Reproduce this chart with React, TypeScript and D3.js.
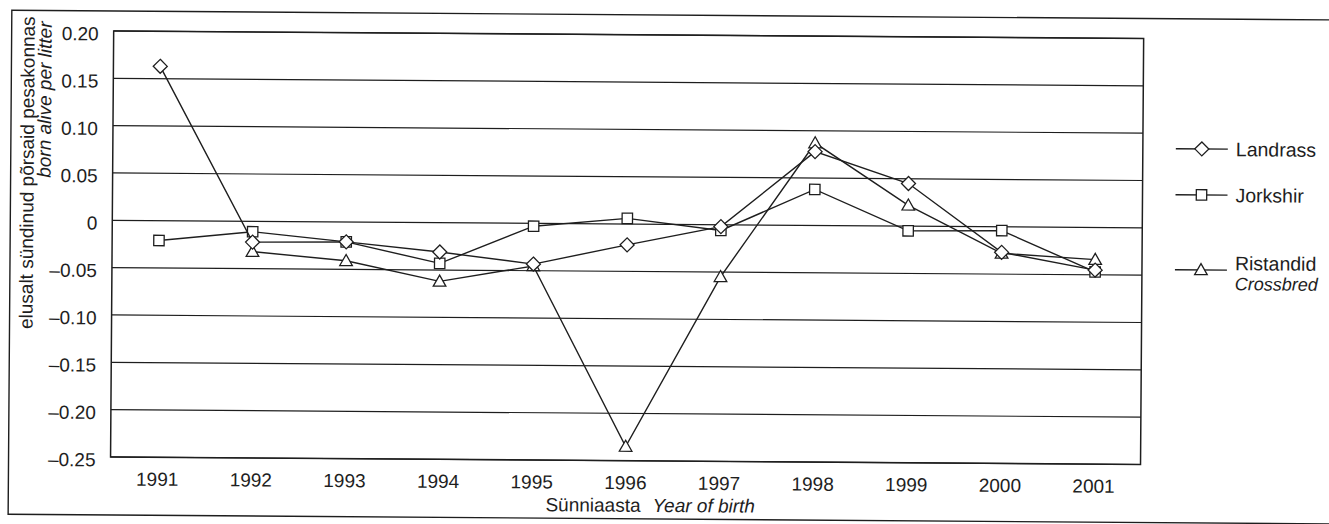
import React from "react";
import * as d3 from "d3";

const years = ["1991","1992","1993","1994","1995","1996","1997","1998","1999","2000","2001"];
const landrass = [0.163, -0.022, -0.021, -0.031, -0.043, -0.022, -0.002, 0.078, 0.045, -0.027, -0.045];
const jorkshir = [-0.021, -0.011, -0.021, -0.043, -0.003, 0.006, -0.006, 0.038, -0.005, -0.004, -0.047];
const ristandid: (number | null)[] = [null, -0.032, -0.041, -0.062, -0.045, -0.235, -0.055, 0.087, 0.022, -0.028, -0.034];
const yTicks = [0.2, 0.15, 0.1, 0.05, 0, -0.05, -0.1, -0.15, -0.2, -0.25];
const yTickLabels = ["0.20", "0.15", "0.10", "0.05", "0", "–0.05", "–0.10", "–0.15", "–0.20", "–0.25"];

const W = 1329, H = 524;
const L = 112, R = 1142, T = 35, B = 461;
const INK = "#1e1e1e";
const FONT = "Liberation Sans, Arial, Helvetica, sans-serif";

function Marker({ kind, x, y }: { kind: string; x: number; y: number }) {
  if (kind === "diamond") {
    const s = 7;
    return <path d={`M${x},${y - s}L${x + s},${y}L${x},${y + s}L${x - s},${y}Z`} fill="#fff" stroke={INK} strokeWidth={1.3} />;
  }
  if (kind === "square") {
    const s = 5.2;
    return <rect x={x - s} y={y - s} width={2 * s} height={2 * s} fill="#fff" stroke={INK} strokeWidth={1.3} />;
  }
  const s = 6.3;
  return <path d={`M${x},${y - s}L${x + s},${y + s * 0.75}L${x - s},${y + s * 0.75}Z`} fill="#fff" stroke={INK} strokeWidth={1.3} />;
}

export default function App() {
  const x = d3.scalePoint<string>().domain(years).range([L, R]).padding(0.5);
  const y = d3.scaleLinear().domain([-0.25, 0.2]).range([B, T]);
  const series = [
    { name: "Jorkshir", kind: "square", values: jorkshir as (number | null)[] },
    { name: "Ristandid", kind: "triangle", values: ristandid },
    { name: "Landrass", kind: "diamond", values: landrass as (number | null)[] },
  ];
  const line = d3
    .line<[string, number | null]>()
    .defined((d) => d[1] != null)
    .x((d) => x(d[0]) as number)
    .y((d) => y(d[1] as number));

  const legend = [
    { label: "Landrass", kind: "diamond", ly: 145, ty: 145 },
    { label: "Jorkshir", kind: "square", ly: 191, ty: 191 },
    { label: "Ristandid", kind: "triangle", ly: 266, ty: 259 },
  ];

  return (
    <svg width={W} height={H} style={{ position: "absolute", left: 0, top: 0, background: "#fff" }} fontFamily={FONT}>
      <g transform="rotate(0.42 665 262)">
        {/* outer frame */}
        <rect x={10} y={15} width={1360} height={504} fill="none" stroke={INK} strokeWidth={1.4} />
        {/* gridlines */}
        {yTicks.map((t) => (
          <line key={t} x1={L} x2={R} y1={y(t)} y2={y(t)} stroke={INK} strokeWidth={1.2} />
        ))}
        {/* plot border */}
        <rect x={L} y={T} width={R - L} height={B - T} fill="none" stroke={INK} strokeWidth={1.5} />
        {/* y tick labels */}
        {yTicks.map((t, i) => (
          <text key={t} x={97} y={y(t) + 9.5} textAnchor="end" fontSize={19} fill={INK}>
            {yTickLabels[i]}
          </text>
        ))}
        {/* x tick labels */}
        {years.map((yr) => (
          <text key={yr} x={x(yr)} y={489.5} textAnchor="middle" fontSize={19} fill={INK}>
            {yr}
          </text>
        ))}
        {/* x axis title */}
        <text x={652} y={512} textAnchor="middle" fontSize={19} fill={INK}>
          <tspan>Sünniaasta</tspan>
          <tspan dx={12} fontStyle="italic">Year of birth</tspan>
        </text>
        {/* y axis title */}
        <text transform="translate(33,21) rotate(-90)" textAnchor="end" fontSize={19} fill={INK}>
          elusalt sündinud põrsaid pesakonnas
        </text>
        <text transform="translate(50,26) rotate(-90)" textAnchor="end" fontSize={19} fontStyle="italic" fill={INK}>
          born alive per litter
        </text>
        {/* series */}
        {series.map((s) => (
          <g key={s.name}>
            <path
              d={line(years.map((yr, i) => [yr, s.values[i]] as [string, number | null])) || ""}
              fill="none"
              stroke={INK}
              strokeWidth={1.4}
            />
            {s.values.map((v, i) =>
              v == null ? null : <Marker key={i} kind={s.kind} x={x(years[i]) as number} y={y(v)} />
            )}
          </g>
        ))}
        {/* legend */}
        {legend.map((l) => (
          <g key={l.label}>
            <line x1={1175} x2={1227} y1={l.ly} y2={l.ly} stroke={INK} strokeWidth={1.4} />
            <Marker kind={l.kind} x={1201} y={l.ly} />
            <text x={1235} y={l.ty + 7} fontSize={19.5} fill={INK}>
              {l.label}
            </text>
          </g>
        ))}
        <text x={1235} y={286} fontSize={18} fontStyle="italic" fill={INK}>
          Crossbred
        </text>
      </g>
    </svg>
  );
}
